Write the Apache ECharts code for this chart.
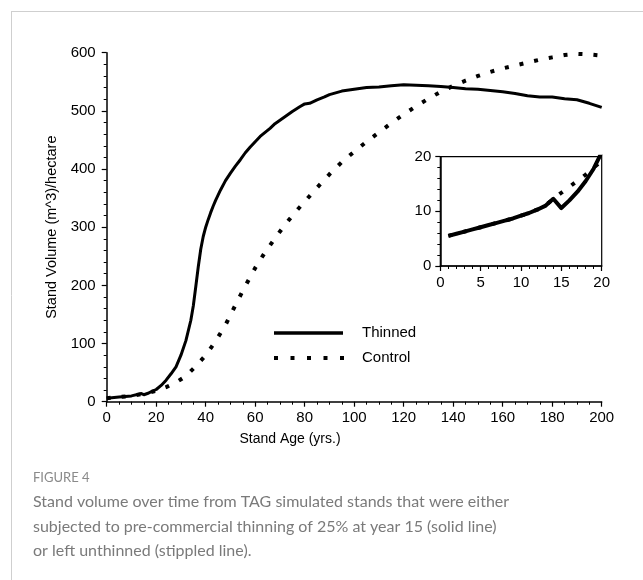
<!DOCTYPE html>
<html>
<head>
<meta charset="utf-8">
<script src="https://cdn.jsdelivr.net/npm/echarts@6/dist/echarts.min.js"></script>
<style>
html,body{margin:0;padding:0;background:#fff;}
#c{width:643px;height:580px;}
</style>
</head>
<body>
<div id="c"></div>
<script>
// ---- Data ----
var thinnedYears = [0,5,10,14,15,17,20,22,24,26,28,30,32,34,35,36,37,38,39,40,41,42,43,44,46,48,50,52,54,56,58,60,62,64,66,68,70,72,75,78,80,82,85,88,90,95,100,105,110,115,120,125,130,135,140,145,150,155,160,165,170,175,180,185,190,195,200];
var thinnedVolume = [6,8,10,14,12,15,21,28,37,48,60,80,105,140,165,198,232,262,284,300,313,325,336,346,364,380,393,405,416,428,438,447,456,463,470,478,484,490,499,507,512,513,519,524,528,534,537,540,541,543,545,544,543,542,540,538,537,535,533,530,526,524,524,521,519,513,506];

var controlYears = [0,5,10,15,20,24,28,32,36,40,44,48,52,56,60,64,68,72,76,80,85,90,95,100,105,110,115,120,125,130,135,140,145,150,155,160,165,170,175,180,185,190,195,200];
var controlVolume = [6,8,10,13.5,19,25,33,44,61,80,104,132,166,199,230,257,281,304,325,344,368,391,412,430,447,463,479,494,508,521,533,543,552,560,567,573,578,583,588,592,596,598,597,595];

var insetYears = [1,2,3,4,5,6,7,8,9,10,11,12,13,14,15,16,17,18,19,20];
var insetThinned = [5.5,5.9,6.3,6.7,7.1,7.5,7.9,8.3,8.7,9.2,9.7,10.3,11.0,12.3,10.6,12.0,13.6,15.5,17.8,20.8];
var insetControl = [5.5,5.9,6.3,6.7,7.1,7.5,7.9,8.3,8.7,9.2,9.7,10.3,11.0,12.3,13.4,14.5,15.6,16.7,18.0,19.2];

var mainXTicks = [0,200,20];   // min, max, interval
var mainYTicks = [0,600,100];
var insetXTicks = [0,20,5];
var insetYTicks = [0,20,10];

var seriesNames = ['Thinned','Control'];
var xAxisTitle = 'Stand Age (yrs.)';
var yAxisTitle = 'Stand Volume (m^3)/hectare';
var figureLabel = 'FIGURE 4';
var captionLines = [
  'Stand volume over time from TAG simulated stands that were either',
  'subjected to pre-commercial thinning of 25% at year 15 (solid line)',
  'or left unthinned (stippled line).'
];

function zip(a, b){ return a.map(function(v,i){ return [v, b[i]]; }); }

var FONT = '"Liberation Sans", Arial, sans-serif';
var INK = '#000';
var axisCommon = function(t, minorSplit){
  return {
    type: 'value', min: t[0], max: t[1], interval: t[2],
    splitLine: {show:false},
    axisLine: {show:true, lineStyle:{color:INK, width:1.5}},
    axisTick: {show:true, length:5, lineStyle:{color:INK, width:1.2}},
    minorTick: {show:true, splitNumber:minorSplit, length:3, lineStyle:{color:INK, width:1}},
    axisLabel: {color:INK, fontSize:15, fontFamily:FONT}
  };
};

var xMain = axisCommon(mainXTicks, 4); xMain.gridIndex = 0; xMain.axisLabel.margin = 9;
var yMain = axisCommon(mainYTicks, 5); yMain.gridIndex = 0; yMain.axisLabel.margin = 11;
yMain.name = yAxisTitle; yMain.nameLocation = 'middle'; yMain.nameGap = 44;
yMain.nameTextStyle = {color:INK, fontSize:14.5, fontFamily:FONT};
var xIn = axisCommon(insetXTicks, 5); xIn.gridIndex = 1; xIn.axisLabel.margin = 9;
var yIn = axisCommon(insetYTicks, 5); yIn.gridIndex = 1; yIn.axisLabel.margin = 9;

var dotted = {color:INK, width:4, type:[4,11], cap:'butt'};

// legend drawn as graphics (line sample + label)
var legendX = 274, legendY = 333, legendGap = 25, legendLen = 69;
var legendGraphics = [];
seriesNames.forEach(function(nm, i){
  var y = legendY + i * legendGap;
  legendGraphics.push({type:'line', shape:{x1:legendX, y1:y, x2:legendX + legendLen + (i ? 4 : 0), y2:y},
    style: i ? {stroke:INK, lineWidth:4, lineDash:[4,12.5], lineCap:'butt'} : {stroke:INK, lineWidth:3.5}, silent:true});
  legendGraphics.push({type:'text', x:362, y:y, style:{text:nm, fill:INK, font:'15px ' + FONT, verticalAlign:'middle'}});
});

var chart = echarts.init(document.getElementById('c'), null, {renderer:'canvas'});
chart.setOption({
  animation: false,
  backgroundColor: '#fff',
  grid: [
    {left:106.7, right:41.3, top:52.7, bottom:178.3, containLabel:false, outerBoundsMode:'none'},
    {left:440.3, right:41.3, top:156.7, bottom:314, containLabel:false, outerBoundsMode:'none',
     show:true, borderColor:INK, borderWidth:1.2, backgroundColor:'#fff'}
  ],
  xAxis: [xMain, xIn],
  yAxis: [yMain, yIn],
  series: [
    {name:seriesNames[1], type:'line', xAxisIndex:0, yAxisIndex:0, data:zip(controlYears, controlVolume),
     symbol:'none', showSymbol:false, lineStyle:dotted, itemStyle:{color:INK}, z:2},
    {name:seriesNames[0], type:'line', xAxisIndex:0, yAxisIndex:0, data:zip(thinnedYears, thinnedVolume),
     symbol:'none', showSymbol:false, lineStyle:{color:INK, width:3, join:'round'}, itemStyle:{color:INK}, z:3},
    {name:seriesNames[1], type:'line', xAxisIndex:1, yAxisIndex:1, data:zip(insetYears, insetControl),
     symbol:'none', showSymbol:false, lineStyle:dotted, itemStyle:{color:INK}, z:2},
    {name:seriesNames[0], type:'line', xAxisIndex:1, yAxisIndex:1, data:zip(insetYears, insetThinned),
     symbol:'none', showSymbol:false, lineStyle:{color:INK, width:4, join:'round'}, itemStyle:{color:INK}, z:3}
  ],
  graphic: [
    {type:'line', shape:{x1:11, y1:11.5, x2:643, y2:11.5}, style:{stroke:'#cfcfcf', lineWidth:1}, silent:true},
    {type:'line', shape:{x1:11.5, y1:11, x2:11.5, y2:580}, style:{stroke:'#cfcfcf', lineWidth:1}, silent:true},
    {type:'text', x:290, y:439, style:{text:xAxisTitle, fill:INK, font:'14px ' + FONT, align:'center', verticalAlign:'middle'}},
    {type:'text', x:33, y:478, style:{text:figureLabel, fill:'#8a8a8a', font:'13px Lato, sans-serif', align:'left', verticalAlign:'middle'}},
    {type:'text', x:33, y:489.75, style:{text:captionLines.join('\n'), fill:'#7a7a7a', font:'16px Lato, sans-serif', lineHeight:24.5, align:'left', verticalAlign:'top'}}
  ].concat(legendGraphics)
});
</script>
</body>
</html>
